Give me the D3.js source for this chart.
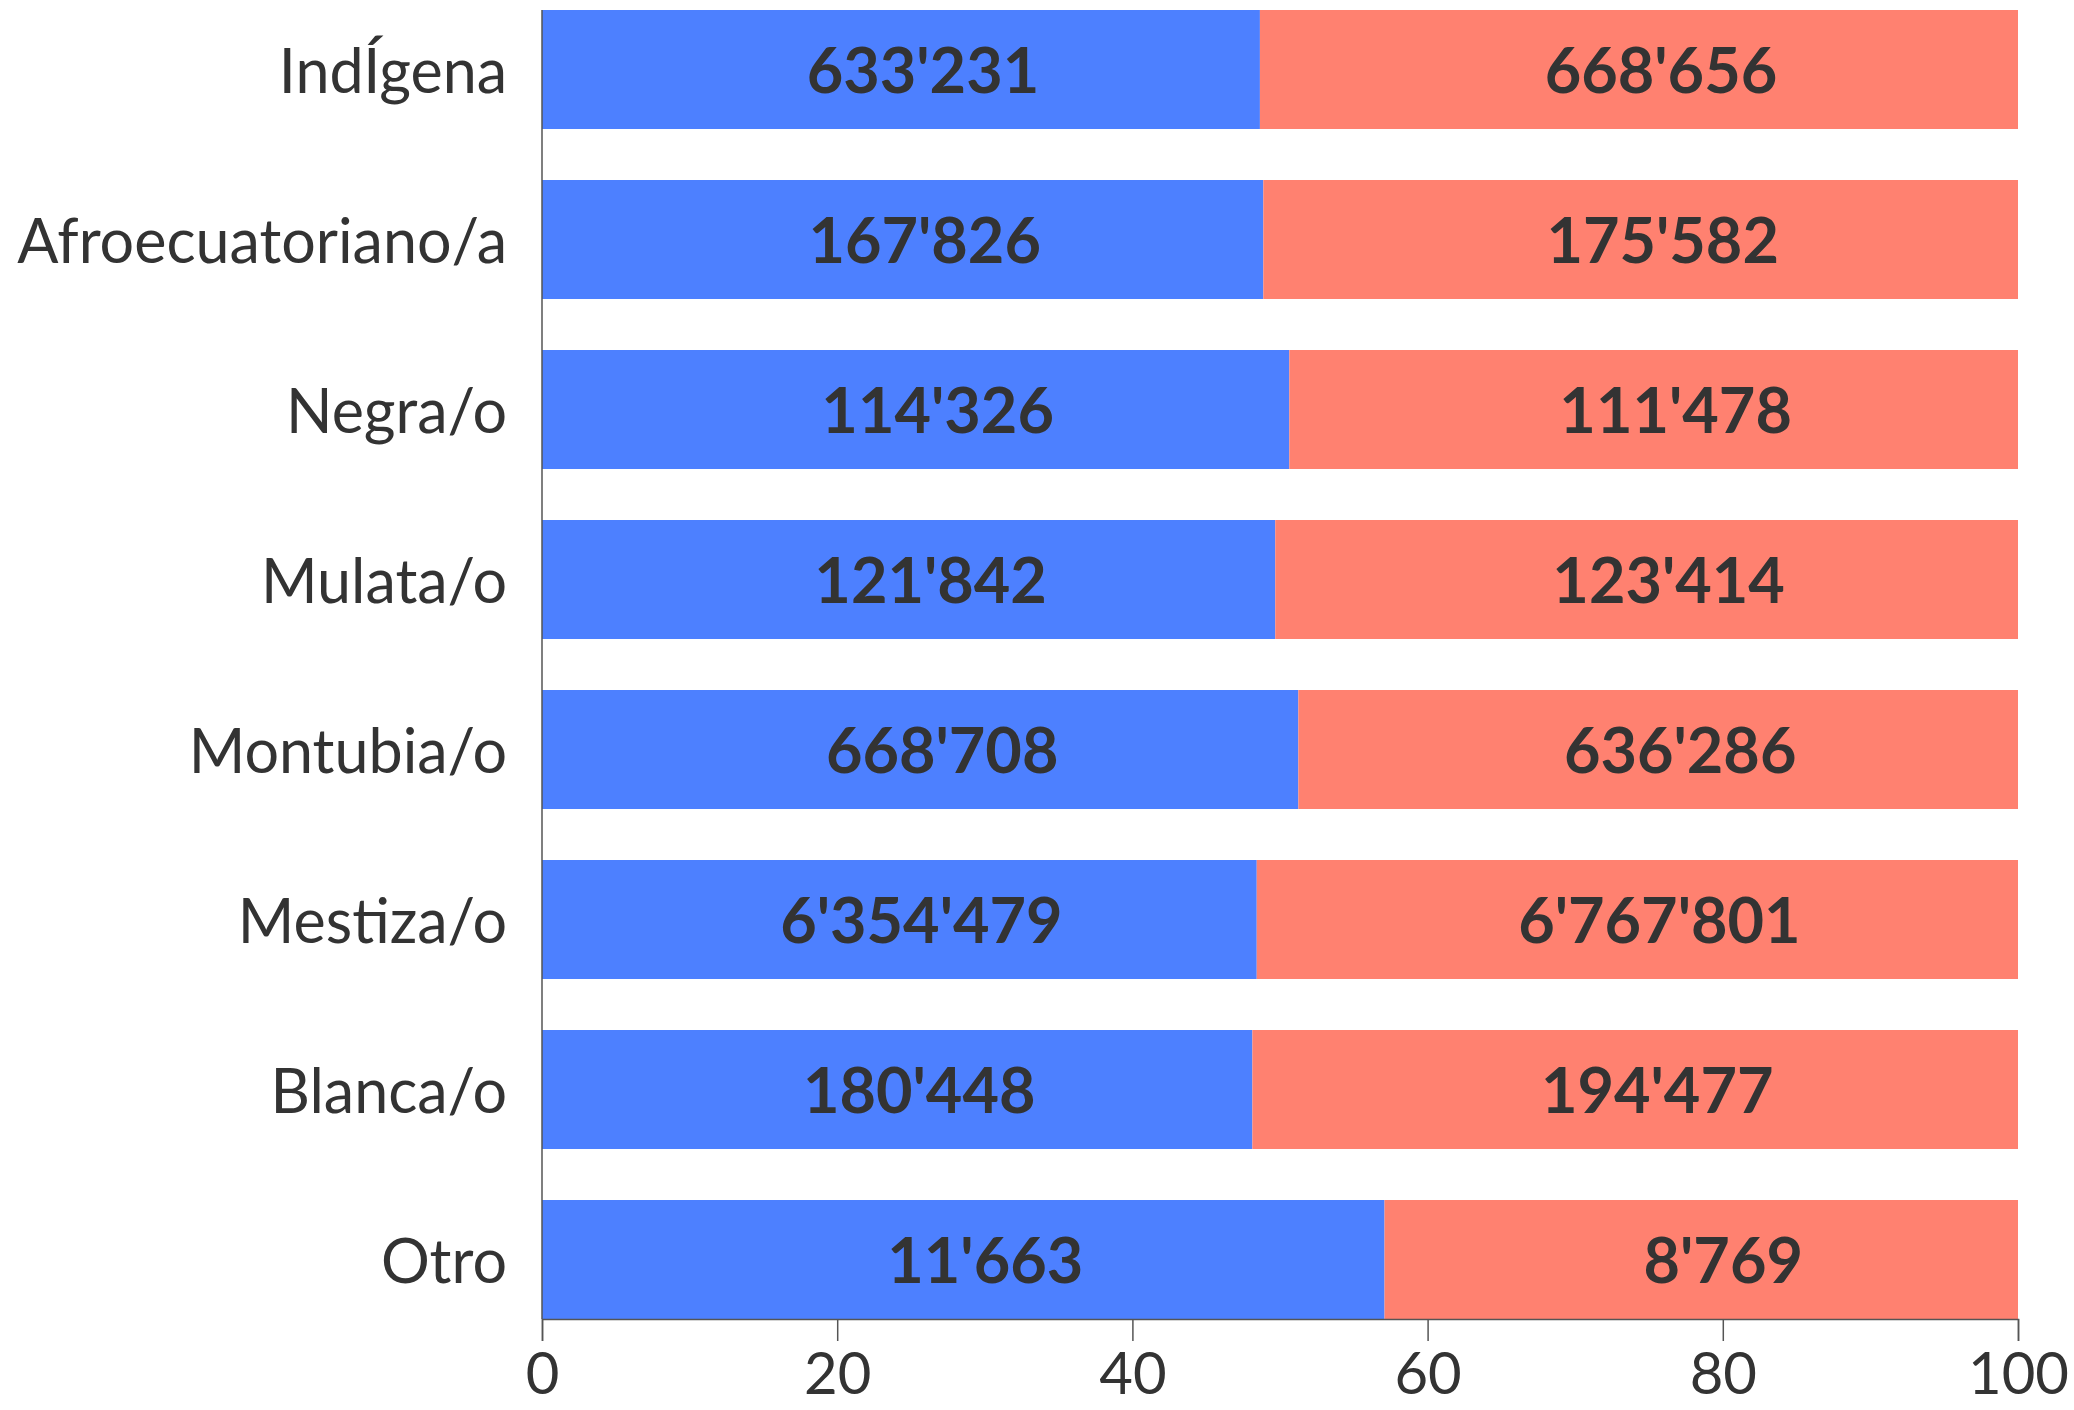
<!DOCTYPE html>
<meta charset="utf-8">
<body style="margin:0;background:#fff">
<script src="https://d3js.org/d3.v7.min.js"></script>
<svg></svg>
<script>
    var width = 2074;
    var height = 1410;

    // population by self-identification, two series (blue / red)
    var categories = ["IndÍgena", "Afroecuatoriano/a", "Negra/o", "Mulata/o", "Montubia/o", "Mestiza/o", "Blanca/o", "Otro"];
    var seriesBlue = [633231, 167826, 114326, 121842, 668708, 6354479, 180448, 11663];
    var seriesRed  = [668656, 175582, 111478, 123414, 636286, 6767801, 194477, 8769];
    var xTicks = [0, 20, 40, 60, 80, 100];

    var margin = {top: 10, right: 56, bottom: 91, left: 542};

    var svg = d3.select("svg")
        .attr("width", width)
        .attr("height", height)
        .style("font-family", "Lato, sans-serif");

    var x = d3.scaleLinear().domain([0, 100]).range([margin.left, width - margin.right]);
    var y = d3.scaleBand().domain(categories)
        .range([margin.top, height - margin.bottom])
        .paddingInner(0.3).paddingOuter(0);

    var fmt = d3.formatLocale({decimal: ".", thousands: "'", grouping: [3], currency: ["", ""]}).format(",d");

    var rows = categories.map(function(c, i) {
        var total = seriesBlue[i] + seriesRed[i];
        return {cat: c, blue: seriesBlue[i], red: seriesRed[i], pb: seriesBlue[i] / total * 100};
    });

    var g = svg.selectAll(".row").data(rows).enter().append("g");

    g.append("rect")
        .attr("x", x(0))
        .attr("y", function(d) { return y(d.cat); })
        .attr("width", function(d) { return x(d.pb) - x(0); })
        .attr("height", y.bandwidth())
        .style("fill", "#4d80ff");

    g.append("rect")
        .attr("x", function(d) { return x(d.pb); })
        .attr("y", function(d) { return y(d.cat); })
        .attr("width", function(d) { return x(100) - x(d.pb); })
        .attr("height", y.bandwidth())
        .style("fill", "#ff8170");

    // value labels, a bit right of each segment's centre
    g.append("text")
        .attr("x", function(d) { return x(d.pb / 2) + 22; })
        .attr("y", function(d) { return y(d.cat) + y.bandwidth() / 2; })
        .attr("dy", "0.38em")
        .attr("text-anchor", "middle")
        .style("font-size", "63px").style("font-weight", "bold").style("fill", "#333")
        .text(function(d) { return fmt(d.blue); });

    g.append("text")
        .attr("x", function(d) { return x((d.pb + 100) / 2) + 22; })
        .attr("y", function(d) { return y(d.cat) + y.bandwidth() / 2; })
        .attr("dy", "0.38em")
        .attr("text-anchor", "middle")
        .style("font-size", "63px").style("font-weight", "bold").style("fill", "#333")
        .text(function(d) { return fmt(d.red); });

    // category labels
    svg.append("g").selectAll("text").data(categories).enter().append("text")
        .attr("x", margin.left - 35)
        .attr("y", function(d) { return y(d) + y.bandwidth() / 2; })
        .attr("dy", "0.38em")
        .attr("text-anchor", "end")
        .style("font-size", "61px").style("fill", "#333")
        .text(function(d) { return d; });

    // left axis line
    svg.append("line")
        .attr("x1", x(0)).attr("x2", x(0))
        .attr("y1", margin.top).attr("y2", height - margin.bottom)
        .style("stroke", "#555").style("stroke-width", 1.5);

    var xAxis = svg.append("g")
        .attr("transform", "translate(0," + (height - margin.bottom) + ")")
        .call(d3.axisBottom(x).tickValues(xTicks).tickSize(22).tickPadding(12));
    xAxis.select(".domain").style("stroke", "#555").style("stroke-width", 1.5);
    xAxis.selectAll(".tick line").style("stroke", "#555").style("stroke-width", 1.5);
    xAxis.selectAll("text")
        .style("font-family", "Lato, sans-serif")
        .style("font-size", "58px").style("fill", "#333");
</script>
